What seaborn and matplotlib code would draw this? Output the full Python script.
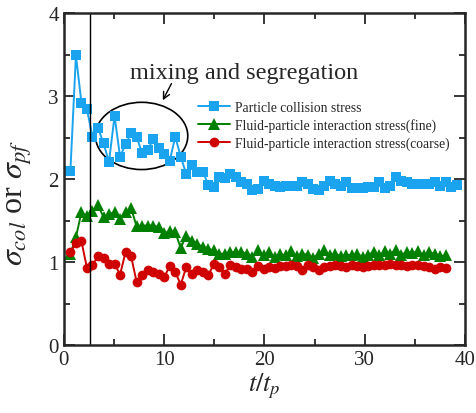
import matplotlib
matplotlib.use('Agg')
import matplotlib.pyplot as plt
from matplotlib.patches import Ellipse
import seaborn as sns

# time points t/t_p
t_col = [0.66, 1.21, 1.76, 2.31, 2.86, 3.41, 3.96, 4.51, 5.06, 5.61, 6.16, 6.71, 7.26, 7.81,
         8.36, 8.91, 9.46, 10.01, 10.56, 11.11, 11.66, 12.21, 12.76, 13.31, 13.86, 14.41,
         14.96, 15.51, 16.06, 16.61, 17.16, 17.71, 18.26, 18.81, 19.36, 19.91, 20.46, 21.01,
         21.56, 22.11, 22.66, 23.21, 23.76, 24.31, 24.86, 25.41, 25.96, 26.51, 27.06, 27.61,
         28.16, 28.71, 29.26, 29.81, 30.36, 30.91, 31.46, 32.01, 32.56, 33.11, 33.66, 34.21,
         34.76, 35.31, 35.86, 36.41, 36.96, 37.51, 38.06, 38.61, 39.16]
t_pf = t_col[:69]

# particle collision stress
sigma_col = [2.10, 3.49, 2.92, 2.84, 2.51, 2.62, 2.43, 2.21, 2.76, 2.27, 2.42, 2.55, 2.51, 2.31,
             2.35, 2.48, 2.37, 2.30, 2.22, 2.51, 2.27, 2.06, 2.17, 2.08, 2.09, 1.93, 1.90, 2.02,
             2.01, 2.06, 2.02, 1.97, 1.94, 1.87, 1.88, 1.98, 1.94, 1.92, 1.90, 1.92, 1.92, 1.92,
             1.97, 1.94, 1.88, 1.87, 1.92, 1.98, 1.94, 1.92, 1.96, 1.89, 1.89, 1.89, 1.90, 1.90,
             1.96, 1.89, 1.92, 2.02, 1.98, 1.96, 1.94, 1.94, 1.94, 1.94, 1.97, 1.92, 1.96, 1.91,
             1.93]

# fluid-particle interaction stress (fine)
sigma_fine = [1.10, 1.30, 1.60, 1.55, 1.62, 1.69, 1.54, 1.58, 1.60, 1.52, 1.60, 1.65, 1.43, 1.44,
              1.44, 1.44, 1.42, 1.35, 1.37, 1.36, 1.17, 1.32, 1.26, 1.22, 1.18, 1.16, 1.14, 1.10,
              1.10, 1.12, 1.12, 1.12, 1.10, 1.06, 1.14, 1.08, 1.12, 1.06, 1.10, 1.08, 1.13, 1.07,
              1.10, 1.09, 1.05, 1.10, 1.14, 1.08, 1.10, 1.07, 1.09, 1.08, 1.10, 1.06, 1.09, 1.12,
              1.08, 1.13, 1.10, 1.15, 1.09, 1.12, 1.11, 1.13, 1.08, 1.12, 1.10, 1.07, 1.08]

# fluid-particle interaction stress (coarse)
sigma_coarse = [1.12, 1.23, 1.25, 0.93, 0.96, 1.07, 1.05, 0.98, 0.98, 0.85, 1.12, 1.07, 0.76, 0.84,
                0.90, 0.88, 0.86, 0.82, 0.95, 0.88, 0.73, 0.94, 0.86, 0.90, 0.88, 0.84, 0.98, 0.94,
                0.86, 0.96, 0.94, 0.92, 0.92, 0.88, 0.95, 0.92, 0.94, 0.93, 0.95, 0.95, 0.96, 0.95,
                0.91, 0.97, 0.94, 0.91, 0.94, 0.95, 0.96, 0.95, 0.94, 0.96, 0.95, 0.94, 0.95, 0.96,
                0.96, 0.97, 0.98, 0.97, 0.96, 0.95, 0.97, 0.96, 0.95, 0.94, 0.92, 0.94, 0.93]

sns.set_theme(style="ticks")
plt.rcParams['font.family'] = ['Liberation Serif', 'DejaVu Serif']
plt.rcParams['mathtext.fontset'] = 'stix'

fig = plt.figure(figsize=(4.76, 4.14), dpi=100)
ax = fig.add_axes([0.134, 0.164, 0.843, 0.802])

sns.lineplot(x=t_col, y=sigma_col, ax=ax, color='#1aa3ef', marker='s', markersize=6.5,
             markeredgewidth=0, linewidth=1.4, label='Particle collision stress')
sns.lineplot(x=t_pf, y=sigma_fine, ax=ax, color='#008000', marker='^', markersize=8,
             markeredgewidth=0, linewidth=1.4, label='Fluid-particle interaction stress(fine)')
sns.lineplot(x=t_pf, y=sigma_coarse, ax=ax, color='#d00000', marker='o', markersize=7,
             markeredgewidth=0, linewidth=1.4, label='Fluid-particle interaction stress(coarse)')

ax.axvline(2.65, color='black', linewidth=1.0)

# mixing / segregation region
ax.add_patch(Ellipse((7.76, 2.52), 9.2, 0.81, fill=False, edgecolor='black', linewidth=1.2))
ax.text(18.0, 3.28, 'mixing and segregation', fontsize=17.5, ha='center', va='center')
ax.annotate('', xy=(9.74, 2.92), xytext=(10.86, 3.18),
            arrowprops=dict(arrowstyle='->', color='black', lw=1.0))

ax.set_xlim(0, 40)
ax.set_ylim(0, 4)
ax.set_xticks([0, 10, 20, 30, 40])
ax.set_xticks([5, 15, 25, 35], minor=True)
ax.set_yticks([0, 1, 2, 3, 4])
ax.set_yticks([0.5, 1.5, 2.5, 3.5], minor=True)
ax.tick_params(which='both', direction='in', top=True, right=True, width=1.3, labelsize=15)
ax.tick_params(which='major', length=8)
ax.tick_params(which='minor', length=4.5)
for s in ax.spines.values():
    s.set_linewidth(1.8)

ax.set_xlabel(r'$t/t_p$', fontsize=19, labelpad=1)
ax.set_ylabel(r'$\sigma_{col}$ or $\sigma_{pf}$', fontsize=23)
ax.yaxis.set_label_coords(-0.075, 0.43)

ax.legend(loc='upper left', bbox_to_anchor=(0.334, 0.735), frameon=False, fontsize=9.8,
          handlelength=2.4, handletextpad=0.3, labelspacing=0.3, borderaxespad=0, borderpad=0)

plt.savefig('out.png', dpi=100)
